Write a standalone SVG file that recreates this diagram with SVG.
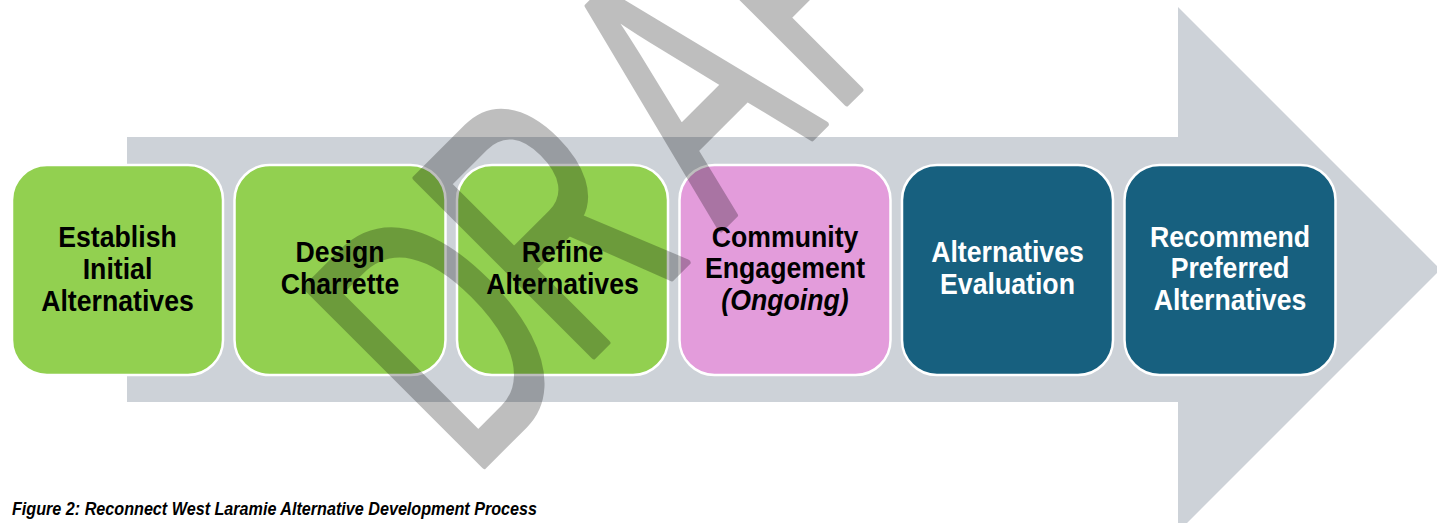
<svg xmlns="http://www.w3.org/2000/svg" width="1437" height="523" viewBox="0 0 1437 523">
<style>
.box{stroke:#ffffff;stroke-width:2.5}
.g{fill:#92d050}
.p{fill:#e39cdb}
.b{fill:#17607f}
.t{font-family:"Liberation Sans",Arial,sans-serif;font-weight:bold;font-size:29px;text-anchor:middle}
.dk{fill:#000000}
.wt{fill:#ffffff}
.cap{font-family:"Liberation Sans",Arial,sans-serif;font-weight:bold;font-style:italic;font-size:17.5px;fill:#000}
</style>
<rect width="1437" height="523" fill="#ffffff"/>
<g id="arrow">
<polygon points="127,137 1178,137 1178,7 1440.5,269.5 1178,532 1178,402 127,402" fill="#cdd2d8"/>
</g>
<g id="connectors"></g>
<g id="n1">
<rect class="box g" x="12" y="165" width="211" height="210" rx="35"/>
<g transform="translate(117.5,0) scale(0.92,1)">
<text class="t dk" x="0" y="246.7">Establish</text>
<text class="t dk" x="0" y="279">Initial</text>
<text class="t dk" x="0" y="311">Alternatives</text>
</g>
</g>
<g id="n2">
<rect class="box g" x="234.5" y="165" width="211" height="210" rx="35"/>
<g transform="translate(340,0) scale(0.92,1)">
<text class="t dk" x="0" y="261.7">Design</text>
<text class="t dk" x="0" y="294">Charrette</text>
</g>
</g>
<g id="n3">
<rect class="box g" x="457" y="165" width="211" height="210" rx="35"/>
<g transform="translate(562.5,0) scale(0.92,1)">
<text class="t dk" x="0" y="261.7">Refine</text>
<text class="t dk" x="0" y="294">Alternatives</text>
</g>
</g>
<g id="n4">
<rect class="box p" x="679.5" y="165" width="211" height="210" rx="35"/>
<g transform="translate(785,0) scale(0.92,1)">
<text class="t dk" x="0" y="246.7">Community</text>
<text class="t dk" x="0" y="278.5">Engagement</text>
<text class="t dk" x="0" y="310" font-style="italic">(Ongoing)</text>
</g>
</g>
<g id="n5">
<rect class="box b" x="902" y="165" width="211" height="210" rx="35"/>
<g transform="translate(1007.5,0) scale(0.92,1)">
<text class="t wt" x="0" y="261.7">Alternatives</text>
<text class="t wt" x="0" y="294">Evaluation</text>
</g>
</g>
<g id="n6">
<rect class="box b" x="1124.5" y="165" width="211" height="210" rx="35"/>
<g transform="translate(1230,0) scale(0.92,1)">
<text class="t wt" x="0" y="246.7">Recommend</text>
<text class="t wt" x="0" y="278.5">Preferred</text>
<text class="t wt" x="0" y="310.5">Alternatives</text>
</g>
</g>
<g id="watermark" opacity="0.25">
<text transform="translate(483,467) rotate(-45) scale(0.62,1)" font-family="Liberation Sans, Arial, sans-serif" font-size="366" fill="#000" stroke="#000" stroke-width="6" stroke-linejoin="round"><tspan x="-29" y="0">D</tspan><tspan x="221" y="0">R</tspan><tspan x="540" y="0">A</tspan><tspan x="798" y="0">F</tspan><tspan x="1022" y="0">T</tspan></text>
</g>
<g id="caption">
<text class="cap" x="12" y="515" textLength="525" lengthAdjust="spacingAndGlyphs">Figure 2: Reconnect West Laramie Alternative Development Process</text>
</g>
</svg>
